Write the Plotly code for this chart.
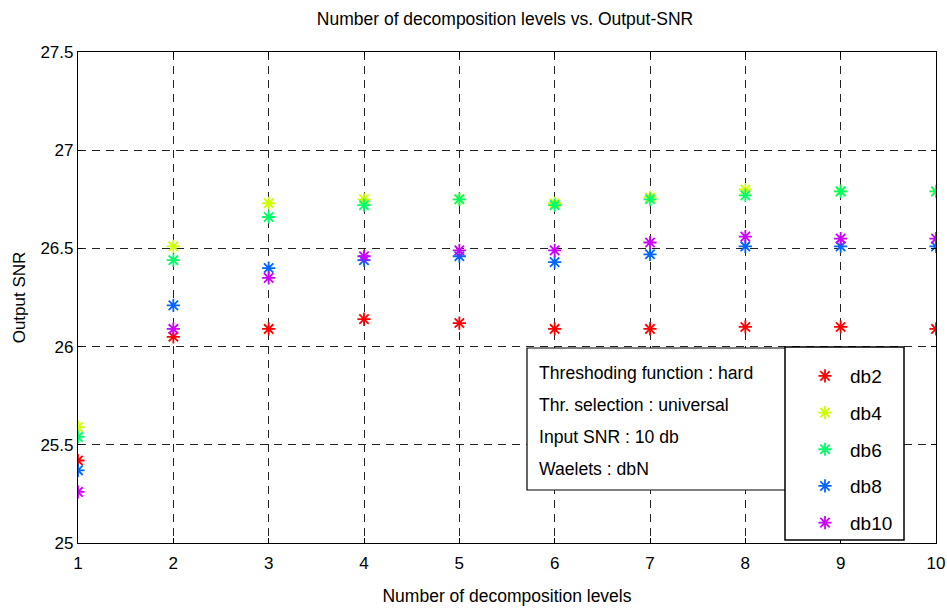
import plotly.graph_objects as go

levels = [1, 2, 3, 4, 5, 6, 7, 8, 9, 10]

db2 = [25.42, 26.05, 26.09, 26.14, 26.12, 26.09, 26.09, 26.10, 26.10, 26.09]
db4 = [25.59, 26.51, 26.73, 26.75, 26.75, 26.73, 26.76, 26.80, 26.79, 26.79]
db6 = [25.54, 26.44, 26.66, 26.72, 26.75, 26.72, 26.75, 26.77, 26.79, 26.79]
db8 = [25.37, 26.21, 26.40, 26.44, 26.46, 26.43, 26.47, 26.51, 26.51, 26.51]
db10 = [25.26, 26.09, 26.35, 26.46, 26.49, 26.49, 26.53, 26.56, 26.55, 26.55]

series_names = ["db2", "db4", "db6", "db8", "db10"]
series_values = [db2, db4, db6, db8, db10]
series_colors = ["#FF0000", "#CCFF00", "#00FF66", "#0066FF", "#CC00FF"]

info_lines = [
    "Threshoding function : hard",
    "Thr. selection : universal",
    "Input SNR : 10 db",
    "Waelets : dbN",
]

x_ticks = list(range(1, 11))
y_ticks = [25, 25.5, 26, 26.5, 27, 27.5]

FONT = "Liberation Sans, Arial"

# plot area in pixels
L, R, T, B = 78, 936, 52, 543
PW, PH = R - L, B - T


def px(xp):
    return (xp - L) / PW


def py(yp):
    return (B - yp) / PH


fig = go.Figure()
for name, vals, col in zip(series_names, series_values, series_colors):
    fig.add_trace(go.Scatter(
        x=levels, y=vals, mode="markers", name=name, legendgroup=name,
        marker=dict(symbol="asterisk-open", size=11, color=col,
                    line=dict(color=col, width=1.8)),
    ))

axis_common = dict(
    showline=True, linecolor="black", linewidth=1.2, mirror="allticks",
    ticks="inside", ticklen=5, tickcolor="black", automargin=False,
    showgrid=True, gridcolor="#222222", gridwidth=1, griddash="8px,6px",
    zeroline=False, tickfont=dict(family=FONT, size=17, color="black"),
)

fig.update_xaxes(range=[1, 10], tickvals=x_ticks, ticklabelstandoff=4,
                 title=dict(text="Number of decomposition levels",
                            font=dict(family=FONT, size=17.5, color="black"),
                            standoff=18),
                 **axis_common)
fig.update_yaxes(range=[25, 27.5], tickvals=y_ticks,
                 ticktext=[f"{v:g}" for v in y_ticks],
                 title=dict(text="Output SNR",
                            font=dict(family=FONT, size=17, color="black"),
                            standoff=10),
                 **axis_common)

# information box
fig.add_shape(type="rect", xref="paper", yref="paper",
              x0=px(527), x1=px(786), y0=py(490), y1=py(348),
              line=dict(color="black", width=1.2), fillcolor="white", layer="above")
for i, line in enumerate(info_lines):
    fig.add_annotation(xref="paper", yref="paper",
                       x=px(537), y=py(373 + 32 * i),
                       xanchor="left", yanchor="middle", showarrow=False,
                       text=line, font=dict(family=FONT, size=17.6, color="black"))

# legend frame
fig.add_shape(type="rect", xref="paper", yref="paper",
              x0=px(785), x1=px(904), y0=py(540), y1=py(347),
              line=dict(color="black", width=1.5), fillcolor="white", layer="above")

fig.update_layout(
    width=947, height=610,
    margin=dict(l=L, r=947 - R, t=T, b=610 - B),
    paper_bgcolor="white", plot_bgcolor="white",
    title=dict(text="Number of decomposition levels vs. Output-SNR",
               x=505 / 947, xanchor="center", y=1 - 19 / 610, yanchor="middle",
               font=dict(family=FONT, size=17.5, color="black")),
    legend=dict(x=px(800), y=py(357), xanchor="left", yanchor="top",
                borderwidth=0, bgcolor="rgba(0,0,0,0)",
                font=dict(family=FONT, size=19, color="black"),
                traceorder="grouped", tracegroupgap=9, itemwidth=40),
    showlegend=True,
)

fig.write_html("out.html")
